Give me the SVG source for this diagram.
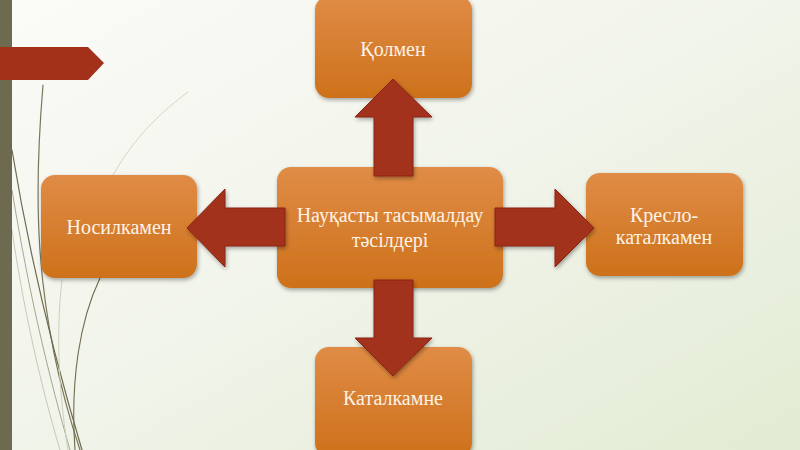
<svg xmlns="http://www.w3.org/2000/svg" width="800" height="450" viewBox="0 0 800 450">
<defs>
<linearGradient id="bg" x1="0" y1="0" x2="1" y2="1">
<stop offset="0" stop-color="#fbfbf8"/>
<stop offset="0.5" stop-color="#f1f4ea"/>
<stop offset="1" stop-color="#e2ebd3"/>
</linearGradient>
<linearGradient id="box" x1="0" y1="0" x2="0" y2="1">
<stop offset="0" stop-color="#e08c46"/>
<stop offset="1" stop-color="#cd711b"/>
</linearGradient>
<filter id="sh" x="-10%" y="-10%" width="130%" height="130%">
<feGaussianBlur in="SourceAlpha" stdDeviation="2"/>
<feOffset dx="1" dy="2" result="b"/>
<feComponentTransfer><feFuncA type="linear" slope="0.35"/></feComponentTransfer>
<feMerge><feMergeNode/><feMergeNode in="SourceGraphic"/></feMerge>
</filter>
</defs>
<style>
.box{fill:url(#box);filter:url(#sh)}
.arr{fill:#a2301a;stroke:#8a2713;stroke-width:1;filter:url(#sh)}
.t{font-size:20px;fill:#fdf3e6;text-anchor:middle}
.deco{fill:none;stroke-linecap:round}
</style>
<rect width="800" height="450" fill="url(#bg)"/>
<g id="decoration">
<path class="deco" d="M43,85 C35,180 30,300 80,450" stroke="#7c7658" stroke-width="1.2"/>
<path class="deco" d="M12,150 C30,260 55,360 82,450" stroke="#6e6a50" stroke-width="1.2"/>
<path class="deco" d="M12,190 C30,300 50,380 70,450" stroke="#a8a58f" stroke-width="1"/>
<path class="deco" d="M12,230 C25,320 45,400 60,450" stroke="#c9c8b8" stroke-width="1"/>
<path class="deco" d="M188,92 C150,120 125,150 105,190" stroke="#d6d6c8" stroke-width="1"/>
<path class="deco" d="M100,278 C80,320 70,380 75,450" stroke="#6e6a50" stroke-width="1.1"/>
<path class="deco" d="M62,280 C55,340 60,400 68,450" stroke="#cfcfc0" stroke-width="1"/>
<rect x="0" y="0" width="12" height="450" fill="#6e6a50"/>
<polygon points="0,47 88,47 104,63 88,80 0,80" fill="#a3311a"/>
</g>
<g id="node-top"><rect class="box" x="315" y="-4" width="157" height="102" rx="14"/><text class="t" font-family="Liberation Serif, DejaVu Serif, serif" x="393" y="56">Қолмен</text></g>
<g id="node-left"><rect class="box" x="41" y="175" width="156" height="103" rx="14"/><text class="t" font-family="Liberation Serif, DejaVu Serif, serif" x="119" y="234">Носилкамен</text></g>
<g id="node-right"><rect class="box" x="586" y="173" width="157" height="103" rx="14"/><text class="t" font-family="Liberation Serif, DejaVu Serif, serif" x="664" y="222">Кресло-</text><text class="t" font-family="Liberation Serif, DejaVu Serif, serif" x="664" y="244">каталкамен</text></g>
<g id="node-bottom"><rect class="box" x="315" y="347" width="157" height="110" rx="14"/><text class="t" font-family="Liberation Serif, DejaVu Serif, serif" x="393" y="405">Каталкамне</text></g>
<g id="node-center"><rect class="box" x="277" y="167" width="226" height="121" rx="14"/><text class="t" font-family="Liberation Serif, DejaVu Serif, serif" x="390" y="222">Науқасты тасымалдау</text><text class="t" font-family="Liberation Serif, DejaVu Serif, serif" x="390" y="247">тәсілдері</text></g>
<g id="connectors">
<polygon class="arr" points="374,176 374,117 355,117 393,79 432,117 413,117 413,176"/>
<polygon class="arr" points="374,280 374,338 355,338 393,376 432,338 413,338 413,280"/>
<polygon class="arr" points="285,208 225,208 225,189 187,228 225,267 225,246 285,246"/>
<polygon class="arr" points="495,208 555,208 555,189 594,228 555,267 555,246 495,246"/>
</g>
</svg>
